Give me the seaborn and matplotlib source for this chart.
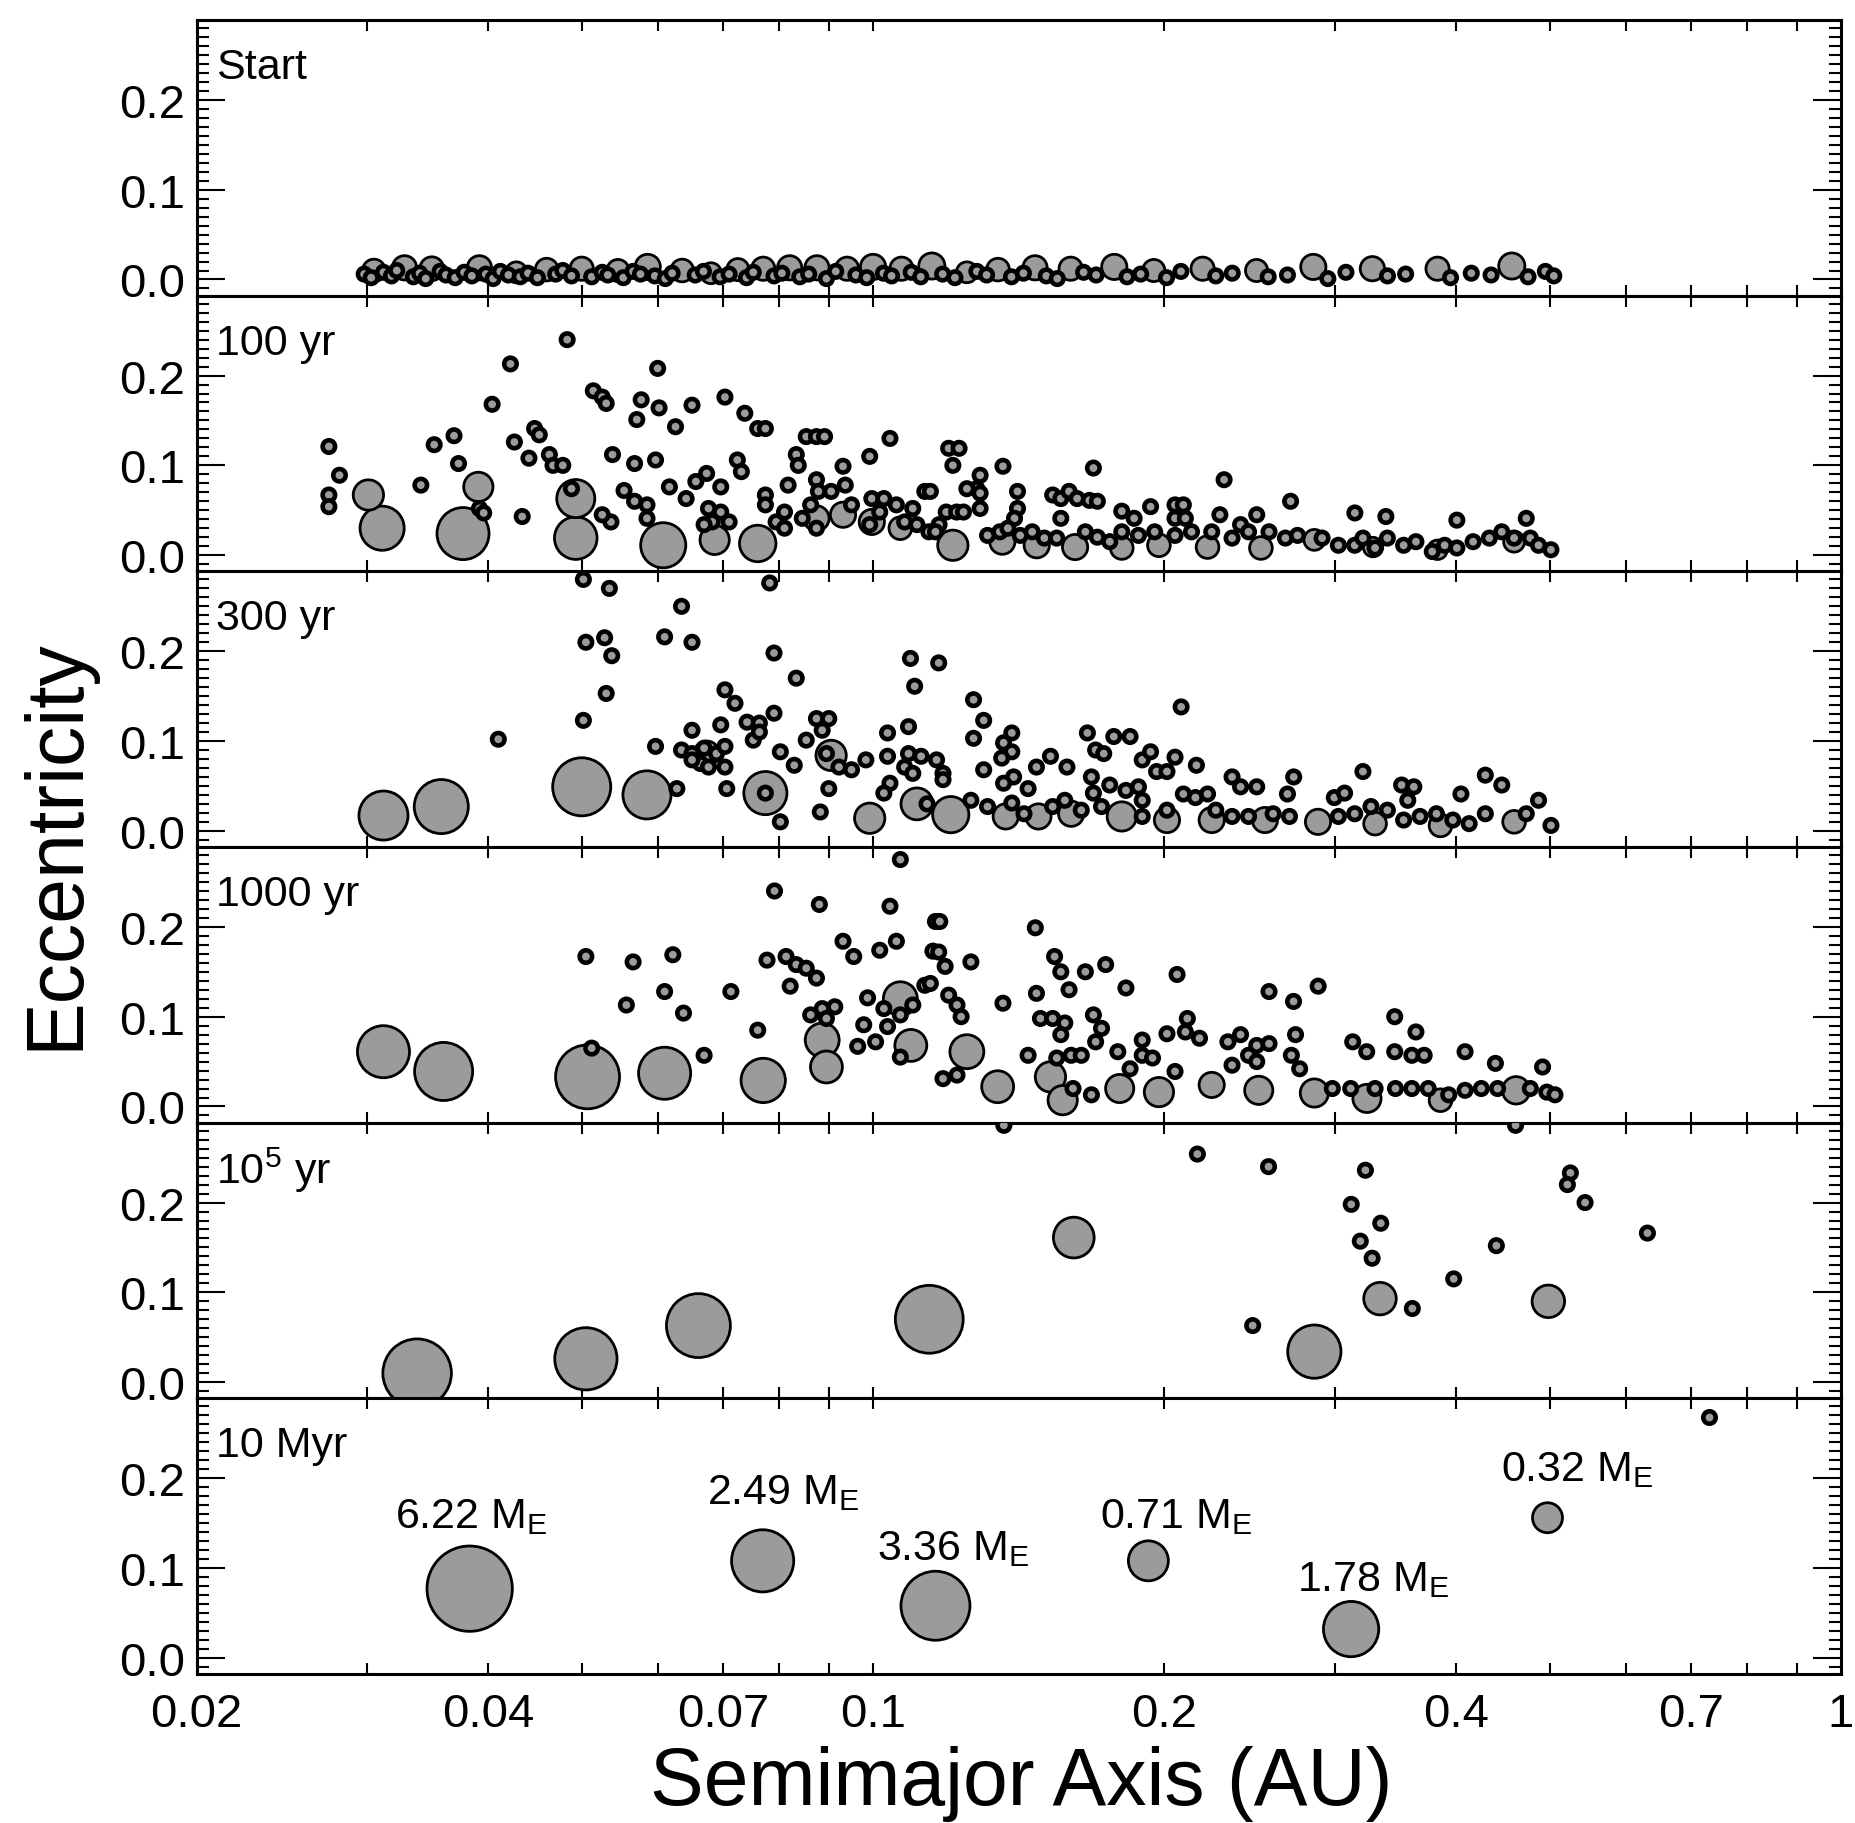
import numpy as np
import pandas as pd
import matplotlib
matplotlib.use("Agg")
import matplotlib.pyplot as plt
import seaborn as sns
from matplotlib.ticker import FixedLocator, FixedFormatter, NullFormatter, MultipleLocator

# ---------------------------------------------------------------------------
# Orbital elements (semimajor axis in AU, eccentricity, mass in Earth masses)
# embryos: (a, e, mass)   planetesimals: (a, e)
# ---------------------------------------------------------------------------
panel_labels = ["Start", "100 yr", "300 yr", "1000 yr", r"10$^{5}$ yr", "10 Myr"]

start_embryos = [
    (0.0305, 0.010, 0.15), (0.0328, 0.013, 0.18), (0.0350, 0.012, 0.17),
    (0.0392, 0.013, 0.18), (0.0428, 0.008, 0.12), (0.0460, 0.011, 0.15),
    (0.0500, 0.012, 0.16), (0.0545, 0.010, 0.14), (0.0585, 0.014, 0.20),
    (0.0635, 0.010, 0.15), (0.0680, 0.007, 0.12), (0.0725, 0.011, 0.14),
    (0.0770, 0.012, 0.16), (0.0820, 0.013, 0.18), (0.0875, 0.013, 0.18),
    (0.0940, 0.012, 0.16), (0.1000, 0.014, 0.20), (0.1070, 0.012, 0.16),
    (0.1150, 0.015, 0.22), (0.1250, 0.008, 0.12), (0.1346, 0.011, 0.15),
    (0.1470, 0.013, 0.18), (0.1600, 0.012, 0.16), (0.1775, 0.014, 0.20),
    (0.1950, 0.010, 0.14), (0.2190, 0.012, 0.16), (0.2490, 0.010, 0.14),
    (0.2850, 0.014, 0.20), (0.3280, 0.012, 0.18), (0.3830, 0.012, 0.16),
    (0.4570, 0.015, 0.22),
]
start_planetesimals = [
    (0.0298, 0.006), (0.0303, 0.002), (0.0312, 0.008), (0.0318, 0.004), (0.0322, 0.010),
    (0.0335, 0.003), (0.0340, 0.007), (0.0345, 0.001), (0.0357, 0.009), (0.0362, 0.005),
    (0.0370, 0.002), (0.0378, 0.008), (0.0385, 0.004), (0.0398, 0.006), (0.0405, 0.001),
    (0.0412, 0.009), (0.0420, 0.005), (0.0432, 0.003), (0.0440, 0.007), (0.0450, 0.002),
    (0.0470, 0.006), (0.0478, 0.010), (0.0488, 0.004), (0.0512, 0.003), (0.0525, 0.008),
    (0.0532, 0.005), (0.0552, 0.002), (0.0565, 0.009), (0.0575, 0.006), (0.0595, 0.004),
    (0.0610, 0.001), (0.0620, 0.007), (0.0655, 0.005), (0.0668, 0.009), (0.0695, 0.003),
    (0.0710, 0.006), (0.0740, 0.002), (0.0752, 0.008), (0.0790, 0.004), (0.0805, 0.007),
    (0.0840, 0.003), (0.0858, 0.006), (0.0895, 0.001), (0.0915, 0.009), (0.0960, 0.005),
    (0.0985, 0.002), (0.1025, 0.007), (0.1045, 0.004), (0.1095, 0.008), (0.1120, 0.003),
    (0.1180, 0.006), (0.1215, 0.002), (0.1280, 0.009), (0.1310, 0.005), (0.1390, 0.003),
    (0.1430, 0.007), (0.1510, 0.004), (0.1550, 0.001), (0.1650, 0.008), (0.1700, 0.005),
    (0.1830, 0.003), (0.1890, 0.006), (0.2010, 0.002), (0.2080, 0.009), (0.2260, 0.004),
    (0.2350, 0.007), (0.2560, 0.003), (0.2680, 0.005), (0.2950, 0.001), (0.3080, 0.008),
    (0.3400, 0.004), (0.3550, 0.006), (0.3950, 0.002), (0.4150, 0.007), (0.4350, 0.005),
    (0.4750, 0.003), (0.4950, 0.009), (0.5050, 0.004),
]

yr100_embryos = [
    (0.0301, 0.067, 0.33), (0.0311, 0.030, 0.94), (0.0377, 0.024, 1.50),
    (0.0391, 0.076, 0.30), (0.0493, 0.063, 0.62), (0.0493, 0.019, 0.85),
    (0.0607, 0.011, 1.00), (0.0686, 0.017, 0.30), (0.0760, 0.013, 0.55),
    (0.0874, 0.041, 0.20), (0.0931, 0.045, 0.20), (0.0997, 0.037, 0.20),
    (0.1067, 0.030, 0.15), (0.1209, 0.011, 0.33), (0.1360, 0.015, 0.20),
    (0.1476, 0.011, 0.20), (0.1617, 0.009, 0.20), (0.1807, 0.008, 0.15),
    (0.1974, 0.011, 0.15), (0.2216, 0.009, 0.15), (0.2516, 0.008, 0.15),
    (0.2857, 0.017, 0.12), (0.3285, 0.009, 0.10), (0.3830, 0.006, 0.10),
    (0.4595, 0.015, 0.12),
]
yr100_planetesimals = [
    (0.0483, 0.240), (0.0422, 0.213), (0.0599, 0.208), (0.0404, 0.168), (0.0514, 0.183),
    (0.0525, 0.176), (0.0530, 0.169), (0.0576, 0.173), (0.0601, 0.164), (0.0650, 0.167),
    (0.0570, 0.151), (0.0625, 0.143), (0.0703, 0.176), (0.0737, 0.158), (0.0760, 0.141),
    (0.0774, 0.141), (0.0853, 0.132), (0.0874, 0.132), (0.0891, 0.132), (0.1041, 0.130),
    (0.0992, 0.110), (0.0274, 0.121), (0.0281, 0.089), (0.0274, 0.067), (0.0274, 0.054),
    (0.0352, 0.123), (0.0369, 0.133), (0.0373, 0.102), (0.0341, 0.078), (0.0426, 0.126),
    (0.0447, 0.141), (0.0452, 0.134), (0.0441, 0.108), (0.0463, 0.112), (0.0467, 0.100),
    (0.0478, 0.100), (0.0434, 0.043), (0.0488, 0.074), (0.0538, 0.112), (0.0567, 0.102),
    (0.0596, 0.106), (0.0553, 0.072), (0.0567, 0.060), (0.0584, 0.056), (0.0584, 0.041),
    (0.0616, 0.076), (0.0641, 0.063), (0.0656, 0.082), (0.0673, 0.091), (0.0696, 0.076),
    (0.0724, 0.106), (0.0731, 0.093), (0.0774, 0.067), (0.0774, 0.056), (0.0817, 0.078),
    (0.0833, 0.112), (0.0837, 0.100), (0.0794, 0.037), (0.0810, 0.030), (0.0810, 0.048),
    (0.0676, 0.052), (0.0682, 0.037), (0.0696, 0.048), (0.0710, 0.037), (0.0669, 0.034),
    (0.0874, 0.084), (0.0878, 0.071), (0.0862, 0.056), (0.0874, 0.030), (0.0931, 0.099),
    (0.0936, 0.078), (0.0905, 0.071), (0.0950, 0.056), (0.0997, 0.063), (0.1026, 0.063),
    (0.1057, 0.056), (0.1099, 0.052), (0.1131, 0.071), (0.0992, 0.034), (0.1016, 0.048),
    (0.1078, 0.037), (0.1110, 0.034), (0.1142, 0.026), (0.0392, 0.052), (0.0396, 0.047),
    (0.0536, 0.037), (0.0525, 0.045), (0.0845, 0.041),
    (0.1197, 0.119), (0.1227, 0.119), (0.1209, 0.100), (0.1362, 0.099), (0.1689, 0.097),
    (0.2305, 0.084), (0.2700, 0.060), (0.3146, 0.047), (0.3387, 0.043), (0.4010, 0.039),
    (0.4730, 0.041), (0.1146, 0.071), (0.1290, 0.089), (0.1280, 0.074), (0.1290, 0.069),
    (0.1290, 0.052), (0.1250, 0.074), (0.1410, 0.071), (0.1410, 0.052), (0.1400, 0.041),
    (0.1533, 0.067), (0.1563, 0.063), (0.1594, 0.071), (0.1625, 0.063), (0.1673, 0.061),
    (0.1705, 0.060), (0.1563, 0.041), (0.1807, 0.049), (0.1861, 0.041), (0.1935, 0.054),
    (0.2051, 0.056), (0.2092, 0.056), (0.2051, 0.041), (0.2102, 0.041), (0.2282, 0.045),
    (0.2397, 0.034), (0.2491, 0.045), (0.1190, 0.048), (0.1220, 0.048), (0.1240, 0.048),
    (0.1170, 0.034), (0.1160, 0.026),
    (0.1313, 0.022), (0.1352, 0.026), (0.1378, 0.030), (0.1419, 0.022), (0.1460, 0.026),
    (0.1503, 0.019), (0.1548, 0.019), (0.1657, 0.026), (0.1705, 0.020), (0.1756, 0.015),
    (0.1807, 0.026), (0.1880, 0.022), (0.1954, 0.026), (0.2051, 0.022), (0.2133, 0.026),
    (0.2238, 0.026), (0.2349, 0.019), (0.2443, 0.026), (0.2565, 0.026), (0.2667, 0.019),
    (0.2745, 0.022), (0.2910, 0.019), (0.3025, 0.011), (0.3145, 0.011), (0.3207, 0.019),
    (0.3301, 0.008), (0.3399, 0.019), (0.3533, 0.011), (0.3638, 0.015), (0.3782, 0.004),
    (0.3895, 0.011), (0.4010, 0.008), (0.4168, 0.015), (0.4332, 0.019), (0.4462, 0.026),
    (0.4595, 0.019), (0.4776, 0.019), (0.4870, 0.011), (0.5016, 0.006),
]

yr300_embryos = [
    (0.0312, 0.017, 1.27), (0.0358, 0.027, 1.67), (0.0500, 0.049, 2.05),
    (0.0584, 0.040, 1.20), (0.0774, 0.042, 0.88), (0.0905, 0.084, 0.33),
    (0.0673, 0.086, 0.20), (0.0992, 0.014, 0.33), (0.1110, 0.030, 0.38),
    (0.1203, 0.018, 0.54), (0.1371, 0.016, 0.20), (0.1482, 0.016, 0.20),
    (0.1602, 0.019, 0.20), (0.1807, 0.016, 0.30), (0.2012, 0.012, 0.20),
    (0.2238, 0.012, 0.20), (0.2540, 0.012, 0.20), (0.2882, 0.010, 0.20),
    (0.3301, 0.008, 0.15), (0.3857, 0.006, 0.15), (0.4595, 0.010, 0.15),
]
yr300_planetesimals = [
    (0.0502, 0.280), (0.0534, 0.270), (0.0782, 0.276), (0.0634, 0.250), (0.0505, 0.210),
    (0.0528, 0.215), (0.0537, 0.195), (0.0609, 0.216), (0.0650, 0.210), (0.0790, 0.198),
    (0.0833, 0.170), (0.0530, 0.153), (0.0502, 0.123), (0.0410, 0.102), (0.0703, 0.157),
    (0.0720, 0.142), (0.1093, 0.192), (0.1104, 0.161), (0.0696, 0.118), (0.0650, 0.112),
    (0.0596, 0.094), (0.0634, 0.090), (0.0650, 0.086), (0.0669, 0.092), (0.0689, 0.086),
    (0.0703, 0.094), (0.0663, 0.075), (0.0676, 0.071), (0.0703, 0.071), (0.0650, 0.079),
    (0.0741, 0.121), (0.0763, 0.120), (0.0790, 0.131), (0.0752, 0.101), (0.0763, 0.110),
    (0.0802, 0.088), (0.0829, 0.073), (0.0853, 0.101), (0.0874, 0.125), (0.0900, 0.125),
    (0.0886, 0.112), (0.0895, 0.086), (0.0922, 0.071), (0.0950, 0.068), (0.0983, 0.079),
    (0.0900, 0.047), (0.0706, 0.047), (0.0774, 0.042), (0.0802, 0.010), (0.0882, 0.021),
    (0.0627, 0.047), (0.1035, 0.109), (0.1088, 0.116), (0.1035, 0.083), (0.1088, 0.086),
    (0.1078, 0.071), (0.1099, 0.064), (0.1121, 0.083), (0.1041, 0.053), (0.1026, 0.042),
    (0.1137, 0.030),
    (0.1169, 0.187), (0.1270, 0.146), (0.1301, 0.123), (0.1270, 0.103), (0.2081, 0.138),
    (0.1391, 0.109), (0.1364, 0.098), (0.1391, 0.088), (0.1358, 0.081), (0.1163, 0.079),
    (0.1181, 0.064), (0.1181, 0.057), (0.1301, 0.068), (0.1397, 0.060), (0.1364, 0.053),
    (0.1446, 0.047), (0.1475, 0.071), (0.1525, 0.083), (0.1586, 0.071), (0.1665, 0.109),
    (0.1698, 0.090), (0.1731, 0.086), (0.1773, 0.105), (0.1843, 0.105), (0.1681, 0.060),
    (0.1689, 0.042), (0.1756, 0.051), (0.1897, 0.079), (0.1935, 0.088), (0.1963, 0.066),
    (0.2012, 0.066), (0.2051, 0.082), (0.2158, 0.073), (0.1825, 0.045), (0.1880, 0.049),
    (0.1897, 0.034), (0.2349, 0.060), (0.2397, 0.049), (0.2491, 0.049), (0.2720, 0.060),
    (0.2680, 0.041), (0.2092, 0.041), (0.2153, 0.037), (0.2216, 0.041), (0.3207, 0.066),
    (0.2996, 0.037), (0.3070, 0.042), (0.3516, 0.051), (0.3620, 0.049), (0.3568, 0.034),
    (0.4049, 0.041), (0.4291, 0.062), (0.4462, 0.051), (0.4870, 0.034),
    (0.1262, 0.034), (0.1313, 0.027), (0.1391, 0.031), (0.1432, 0.019), (0.1533, 0.027),
    (0.1578, 0.034), (0.1641, 0.023), (0.1722, 0.027), (0.1897, 0.016), (0.2012, 0.023),
    (0.2260, 0.023), (0.2349, 0.016), (0.2443, 0.016), (0.2590, 0.019), (0.2693, 0.016),
    (0.3025, 0.016), (0.3145, 0.019), (0.3269, 0.027), (0.3399, 0.023), (0.3533, 0.012),
    (0.3674, 0.016), (0.3820, 0.019), (0.3972, 0.012), (0.4129, 0.008), (0.4291, 0.019),
    (0.4730, 0.019), (0.5016, 0.006),
]

yr1000_embryos = [
    (0.0312, 0.061, 1.50), (0.0360, 0.039, 2.05), (0.0507, 0.033, 2.70),
    (0.0609, 0.037, 1.50), (0.0770, 0.029, 0.95), (0.0886, 0.074, 0.45),
    (0.0895, 0.044, 0.38), (0.1067, 0.120, 0.45), (0.1094, 0.068, 0.38),
    (0.1250, 0.061, 0.45), (0.1345, 0.022, 0.38), (0.1525, 0.033, 0.33),
    (0.1570, 0.007, 0.30), (0.1798, 0.020, 0.27), (0.1974, 0.016, 0.30),
    (0.2238, 0.024, 0.20), (0.2503, 0.018, 0.27), (0.2857, 0.015, 0.27),
    (0.3238, 0.009, 0.27), (0.3857, 0.007, 0.15), (0.4617, 0.018, 0.25),
]
yr1000_planetesimals = [
    (0.0505, 0.167), (0.0565, 0.161), (0.0621, 0.169), (0.0556, 0.113), (0.0609, 0.128),
    (0.0637, 0.104), (0.0713, 0.128), (0.0791, 0.240), (0.0880, 0.225), (0.1041, 0.223),
    (0.1067, 0.275), (0.1160, 0.206), (0.0931, 0.184), (0.0955, 0.167), (0.1016, 0.174),
    (0.1057, 0.184), (0.0777, 0.163), (0.0813, 0.167), (0.0833, 0.158), (0.0853, 0.154),
    (0.0874, 0.143), (0.0821, 0.134), (0.0760, 0.085), (0.0669, 0.057), (0.0512, 0.065),
    (0.0862, 0.102), (0.0886, 0.109), (0.0913, 0.111), (0.0895, 0.098), (0.0987, 0.121),
    (0.0978, 0.091), (0.1026, 0.109), (0.1035, 0.089), (0.1067, 0.102), (0.1099, 0.113),
    (0.1131, 0.135), (0.1153, 0.173), (0.0964, 0.067), (0.1006, 0.072), (0.1067, 0.055),
    (0.1172, 0.206), (0.1471, 0.199), (0.1169, 0.172), (0.1187, 0.156), (0.1262, 0.161),
    (0.1146, 0.137), (0.1197, 0.124), (0.1221, 0.113), (0.1233, 0.100), (0.1362, 0.115),
    (0.1540, 0.167), (0.1563, 0.150), (0.1657, 0.150), (0.1739, 0.158), (0.1475, 0.126),
    (0.1594, 0.130), (0.1825, 0.132), (0.2061, 0.147), (0.2565, 0.128), (0.2719, 0.117),
    (0.2883, 0.134), (0.1489, 0.098), (0.1533, 0.098), (0.1578, 0.093), (0.1563, 0.080),
    (0.1689, 0.102), (0.1722, 0.087), (0.1698, 0.072), (0.2112, 0.098), (0.2102, 0.083),
    (0.2174, 0.076), (0.2012, 0.081), (0.1897, 0.074), (0.1897, 0.057), (0.1944, 0.054),
    (0.1790, 0.061), (0.1843, 0.042), (0.2326, 0.072), (0.2397, 0.080), (0.2491, 0.068),
    (0.2565, 0.070), (0.2443, 0.057), (0.2491, 0.050), (0.2349, 0.046), (0.2732, 0.080),
    (0.2705, 0.057), (0.2759, 0.042), (0.3130, 0.072), (0.3236, 0.061), (0.3459, 0.100),
    (0.3638, 0.083), (0.3459, 0.061), (0.3603, 0.057), (0.3710, 0.057), (0.4089, 0.061),
    (0.4395, 0.048), (0.4917, 0.044), (0.1446, 0.057), (0.1548, 0.054), (0.1602, 0.057),
    (0.1641, 0.057), (0.1181, 0.031), (0.1221, 0.035), (0.1609, 0.020), (0.1681, 0.013),
    (0.2051, 0.039),
    (0.2982, 0.020), (0.3115, 0.020), (0.3301, 0.020), (0.3465, 0.020), (0.3603, 0.020),
    (0.3746, 0.020), (0.3933, 0.013), (0.4089, 0.018), (0.4250, 0.020), (0.4418, 0.020),
    (0.4776, 0.020), (0.4967, 0.016), (0.5064, 0.013),
]

yr1e5_embryos = [
    (0.0338, 0.010, 3.30), (0.0505, 0.026, 2.50), (0.0660, 0.063, 2.70),
    (0.1143, 0.070, 3.20), (0.1612, 0.161, 0.75), (0.2857, 0.034, 1.60),
    (0.3340, 0.093, 0.40), (0.4985, 0.090, 0.40),
]
yr1e5_planetesimals = [
    (0.2163, 0.254), (0.2562, 0.240), (0.3226, 0.236), (0.3119, 0.198), (0.3346, 0.177),
    (0.3187, 0.157), (0.3278, 0.138), (0.2467, 0.063), (0.3607, 0.082), (0.3980, 0.115),
    (0.4405, 0.152), (0.5253, 0.233), (0.5216, 0.220), (0.5440, 0.200), (0.6310, 0.166),
    (0.1365, 0.286), (0.4611, 0.286),
]

final_embryos = [
    (0.0383, 0.077, 6.22), (0.0769, 0.108, 2.49), (0.1160, 0.058, 3.36),
    (0.1925, 0.108, 0.71), (0.3118, 0.032, 1.78), (0.4975, 0.156, 0.32),
]
final_planetesimals = [(0.7297, 0.268)]

# Axis ticks
x_major = [0.02, 0.04, 0.07, 0.1, 0.2, 0.4, 0.7, 1.0]
x_major_labels = ["0.02", "0.04", "0.07", "0.1", "0.2", "0.4", "0.7", "1"]
x_minor = [0.03, 0.05, 0.06, 0.08, 0.09, 0.3, 0.5, 0.6, 0.8, 0.9]
y_major = [0.0, 0.1, 0.2]
y_major_labels = ["0.0", "0.1", "0.2"]

# ---------------------------------------------------------------------------
# Style
# ---------------------------------------------------------------------------
sns.set_style("ticks")
plt.rcParams["font.family"] = ["Liberation Sans", "DejaVu Sans"]
plt.rcParams["mathtext.fontset"] = "custom"
plt.rcParams["mathtext.rm"] = "Liberation Sans"
plt.rcParams["mathtext.it"] = "Liberation Sans:italic"
plt.rcParams["mathtext.bf"] = "Liberation Sans:bold"
for key in ("text.color", "axes.labelcolor", "xtick.color", "ytick.color",
            "axes.edgecolor"):
    plt.rcParams[key] = "black"

FILL = "#9b9b9b"
EMBRYO_LW = 2.0
PLANETESIMAL_LW = 3.3
PLANETESIMAL_MASS = 0.045
DPI = 100


def marker_area(mass, lw):
    """Marker area (pt^2): outer diameter grows as mass**(1/3)."""
    d = 34.5 * np.cbrt(np.asarray(mass, dtype=float)) - lw
    return np.clip(d, 2.0, None) ** 2


panels = [
    (start_embryos, start_planetesimals),
    (yr100_embryos, yr100_planetesimals),
    (yr300_embryos, yr300_planetesimals),
    (yr1000_embryos, yr1000_planetesimals),
    (yr1e5_embryos, yr1e5_planetesimals),
    (final_embryos, final_planetesimals),
]

fig, axes = plt.subplots(6, 1, sharex=True, figsize=(1856 / DPI, 1824 / DPI), dpi=DPI)
fig.subplots_adjust(left=0.1059, right=0.9919, top=0.9885, bottom=0.0817, hspace=0)

for ax, label, (emb, pl) in zip(axes, panel_labels, panels):
    emb_df = pd.DataFrame(emb, columns=["a", "e", "m"])
    emb_df = emb_df.sort_values("m", ascending=False).reset_index(drop=True)
    pl_df = pd.DataFrame(pl, columns=["a", "e"])
    pl_df["m"] = PLANETESIMAL_MASS

    sns.scatterplot(data=emb_df, x="a", y="e", s=marker_area(emb_df["m"], EMBRYO_LW),
                    color=FILL, edgecolor="black", linewidth=EMBRYO_LW,
                    legend=False, ax=ax, zorder=3)
    sns.scatterplot(data=pl_df, x="a", y="e", s=marker_area(pl_df["m"], PLANETESIMAL_LW),
                    color=FILL, edgecolor="black", linewidth=PLANETESIMAL_LW,
                    legend=False, ax=ax, zorder=4)

    ax.set_xscale("log")
    ax.set_xlim(0.02, 1.0)
    ax.set_ylim(-0.018, 0.289)
    ax.set_xlabel("")
    ax.set_ylabel("")

    ax.xaxis.set_major_locator(FixedLocator(x_major))
    ax.xaxis.set_major_formatter(FixedFormatter(x_major_labels))
    ax.xaxis.set_minor_locator(FixedLocator(x_minor))
    ax.xaxis.set_minor_formatter(NullFormatter())
    ax.yaxis.set_major_locator(FixedLocator(y_major))
    ax.yaxis.set_major_formatter(FixedFormatter(y_major_labels))
    ax.yaxis.set_minor_locator(MultipleLocator(0.01))

    ax.tick_params(which="both", direction="in", top=True, right=True,
                   width=1.5, colors="black")
    ax.tick_params(axis="y", which="major", length=20, labelsize=34, pad=8)
    ax.tick_params(axis="y", which="minor", length=8.5)
    ax.tick_params(axis="x", which="both", length=8, labelsize=34, pad=13)
    for sp in ax.spines.values():
        sp.set_linewidth(2.2)
        sp.set_color("black")

    ax.text(0.012, 0.83, label, transform=ax.transAxes, fontsize=31,
            ha="left", va="center", color="black")

# Final-state planet masses written above each planet
ax_final = axes[-1]
label_dx_px = [2, 21, 18, 28, 22, 30]
label_dy_px = [73, 69, 58, 45, 50, 49]
for (a, e, m), dx, dy in zip(final_embryos, label_dx_px, label_dy_px):
    ax_final.annotate(f"{m:.2f} M$_{{\\rm E}}$", xy=(a, e),
                      xytext=(dx * 72 / DPI, dy * 72 / DPI), textcoords="offset points",
                      ha="center", va="center", fontsize=31, color="black")

fig.text(0.0302, 0.537, "Eccentricity", rotation=90, ha="center", va="center",
         fontsize=58, color="black")
fig.text(0.550, 0.022, "Semimajor Axis (AU)", ha="center", va="center",
         fontsize=58, color="black")

fig.savefig("out.png", dpi=DPI)
